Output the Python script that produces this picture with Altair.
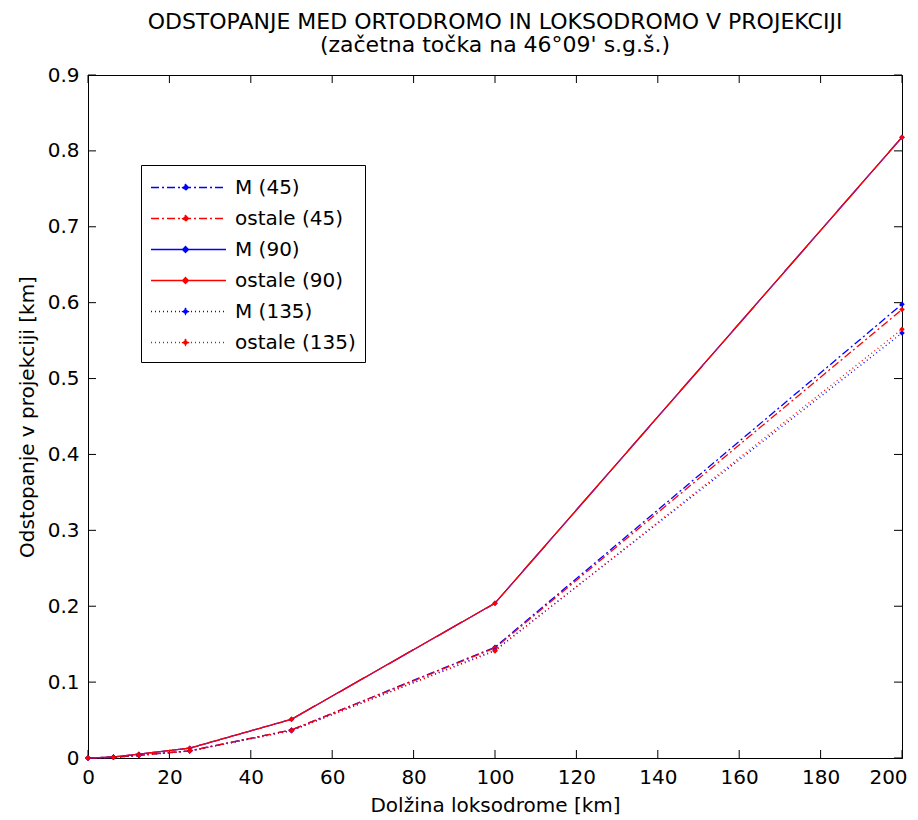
import altair as alt
import pandas as pd

# distances along the loxodrome [km]
x_km = [0, 6.25, 12.5, 25, 50, 100, 200]
# deviation in projection [km]
m45 = [0, 0.0009, 0.0036, 0.0095, 0.037, 0.146, 0.598]
ost45 = [0, 0.0009, 0.0036, 0.0094, 0.037, 0.145, 0.591]
m90 = [0, 0.0013, 0.0051, 0.0130, 0.051, 0.204, 0.818]
ost90 = [0, 0.0013, 0.0051, 0.0130, 0.051, 0.204, 0.818]
m135 = [0, 0.0009, 0.0035, 0.0093, 0.036, 0.142, 0.560]
ost135 = [0, 0.0009, 0.0035, 0.0092, 0.036, 0.141, 0.565]

series_names = ["M (45)", "ostale (45)", "M (90)", "ostale (90)", "M (135)", "ostale (135)"]
series_values = [m45, ost45, m90, ost90, m135, ost135]
series_colors = ["#0000ff", "#ff0000", "#0000ff", "#ff0000", "#0000ff", "#ff0000"]
series_dashes = [[8, 3, 2, 3], [8, 3, 2, 3], [1, 0], [1, 0], [1, 3], [1, 3]]

x_ticks = [0, 20, 40, 60, 80, 100, 120, 140, 160, 180, 200]
y_ticks = [0, 0.1, 0.2, 0.3, 0.4, 0.5, 0.6, 0.7, 0.8, 0.9]

title_lines = ["ODSTOPANJE MED ORTODROMO IN LOKSODROMO V PROJEKCIJI",
               "(začetna točka na 46°09' s.g.š.)"]
x_title = "Dolžina loksodrome [km]"
y_title = "Odstopanje v projekciji [km]"

FONT = "DejaVu Sans"
W, H = 814, 683

rows = []
for i, (name, vals) in enumerate(zip(series_names, series_values)):
    for xv, yv in zip(x_km, vals):
        rows.append({"x": xv, "y": yv, "series": name, "ord": i})
df = pd.DataFrame(rows)

xscale = alt.Scale(domain=[0, 200], nice=False, zero=False)
yscale = alt.Scale(domain=[0, 0.9], nice=False, zero=False)

legend = alt.Legend(
    title=None, orient="none", legendX=53, legendY=90,
    strokeColor="black", fillColor="white", padding=9,
    labelFont=FONT, labelFontSize=20, labelColor="black",
    symbolType="M-1,0H5M1.76,-0.24L2,0L1.76,0.24L1.52,0Z",
    symbolSize=625, symbolStrokeWidth=1.3, labelOffset=58,
    rowPadding=7, cornerRadius=0, symbolOpacity=1,
)

lines = alt.Chart(df).mark_line(
    strokeWidth=1.3, opacity=1,
    point=alt.OverlayMarkDef(filled=True, shape="diamond", size=30, opacity=1),
).encode(
    x=alt.X("x:Q", scale=xscale,
            axis=alt.Axis(values=x_ticks, title=x_title, grid=False, ticks=False,
                          labelPadding=9, titlePadding=8, format="d", labelFlush=False,
                          labelOffset=alt.condition("datum.value == 200", alt.value(-14), alt.value(0)))),
    y=alt.Y("y:Q", scale=yscale,
            axis=alt.Axis(values=y_ticks, title=y_title, grid=False, ticks=False,
                          labelPadding=9, titlePadding=10, labelFlush=False,
                          labelExpr="datum.value == 0 ? '0' : format(datum.value, '.1f')")),
    color=alt.Color("series:N", scale=alt.Scale(domain=series_names, range=series_colors), legend=legend),
    strokeDash=alt.StrokeDash("series:N", scale=alt.Scale(domain=series_names, range=series_dashes), legend=legend),
    order=alt.Order("ord:Q"),
)

xt = pd.DataFrame({"t": x_ticks})
yt = pd.DataFrame({"t": y_ticks})
tick_len = 8
xb = alt.Chart(xt).mark_rule(color="black", strokeWidth=1).encode(
    x=alt.X("t:Q", scale=xscale), y=alt.value(H), y2=alt.value(H - tick_len))
xtop = alt.Chart(xt).mark_rule(color="black", strokeWidth=1).encode(
    x=alt.X("t:Q", scale=xscale), y=alt.value(0), y2=alt.value(tick_len))
yl = alt.Chart(yt).mark_rule(color="black", strokeWidth=1).encode(
    y=alt.Y("t:Q", scale=yscale), x=alt.value(0), x2=alt.value(tick_len))
yr = alt.Chart(yt).mark_rule(color="black", strokeWidth=1).encode(
    y=alt.Y("t:Q", scale=yscale), x=alt.value(W), x2=alt.value(W - tick_len))

chart = alt.layer(xb, xtop, yl, yr, lines).properties(
    width=W, height=H, background="white",
    title=alt.TitleParams(text=title_lines, anchor="middle", font=FONT, fontSize=22,
                          fontWeight="normal", color="black", lineHeight=23, offset=8),
    autosize=alt.AutoSizeParams(type="none"),
    padding={"left": 80, "top": 67, "right": 8, "bottom": 62},
).configure_view(stroke="black", strokeWidth=1).configure_axis(
    labelFont=FONT, labelFontSize=20, labelColor="black", titleFont=FONT,
    titleFontSize=20, titleColor="black", titleFontWeight="normal",
    domainColor="black", domainWidth=1,
)

chart.save("out.html", embed_options={"renderer": "svg", "actions": False})
